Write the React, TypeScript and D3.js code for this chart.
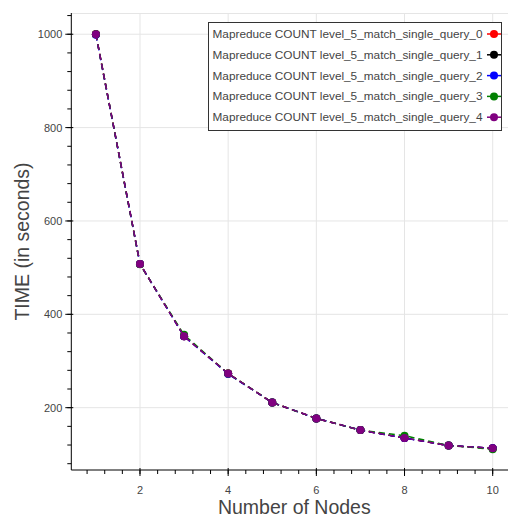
import React from "react";
import * as d3 from "d3";

const nodes = [1, 2, 3, 4, 5, 6, 7, 8, 9, 10];
const seriesNames = [
  "Mapreduce COUNT level_5_match_single_query_0",
  "Mapreduce COUNT level_5_match_single_query_1",
  "Mapreduce COUNT level_5_match_single_query_2",
  "Mapreduce COUNT level_5_match_single_query_3",
  "Mapreduce COUNT level_5_match_single_query_4",
];
const seriesColors = ["red", "black", "blue", "green", "purple"];
const query0 = [1000, 508, 353, 273, 211, 177, 152, 135, 119, 113];
const query1 = [1000, 508, 353, 273, 211, 177, 152, 135, 119, 113];
const query2 = [999, 508, 353, 272, 211, 177, 152, 135, 119, 113];
const query3 = [1000, 507, 356, 273, 211, 177, 152, 140, 119, 111];
const query4 = [1000, 508, 353, 273, 211, 177, 152, 135, 119, 113];
const seriesValues = [query0, query1, query2, query3, query4];
const xTicks = [2, 4, 6, 8, 10];
const yTicks = [200, 400, 600, 800, 1000];

export default function App() {
  const W = 508, H = 517;
  const left = 71.3, right = 517.3, top = 13, bottom = 470;
  const x = d3.scaleLinear().domain([0.442, 10.558]).range([left, right]);
  const y = d3.scaleLinear().domain([66.5, 1045.5]).range([bottom, top]);
  const line = d3
    .line<number>()
    .x((_, i) => x(nodes[i]))
    .y((d) => y(d));
  const xMinor = d3.range(0.8, 10.5, 0.4).filter((v) => x(v) >= left && x(v) <= W);
  const yMinor = d3.range(80, 1045, 40).filter((v) => y(v) >= top);
  const tickColor = "#444";
  const font = "Helvetica, Arial, 'Liberation Sans', sans-serif";

  const legX = 208.5, legY = 22.5, legW = 293, legH = 108;
  return (
    <svg width={W} height={H} style={{ position: "absolute", left: 0, top: 0 }} fontFamily={font}>
      <rect x={0} y={0} width={W} height={H} fill="white" />
      {/* grid */}
      {xTicks.map((t) => (
        <line key={"gx" + t} x1={x(t)} x2={x(t)} y1={top} y2={bottom} stroke="#e5e5e5" strokeWidth={1} />
      ))}
      {yTicks.map((t) => (
        <line key={"gy" + t} x1={left} x2={W} y1={y(t)} y2={y(t)} stroke="#e5e5e5" strokeWidth={1} />
      ))}
      {/* outline top */}
      <line x1={left} x2={W} y1={top + 0.5} y2={top + 0.5} stroke="#e5e5e5" />
      {/* series */}
      {seriesValues.map((vals, si) => (
        <g key={"s" + si}>
          <path d={line(vals) || ""} fill="none" stroke={seriesColors[si]} strokeWidth={1.5} strokeDasharray="6,4" />
          {vals.map((v, i) => (
            <circle key={i} cx={x(nodes[i])} cy={y(v)} r={4} fill={seriesColors[si]} />
          ))}
        </g>
      ))}
      {/* axes */}
      <line x1={left} x2={left} y1={top} y2={bottom} stroke="black" strokeWidth={1} />
      <line x1={left} x2={W} y1={bottom} y2={bottom} stroke="black" strokeWidth={1} />
      {xTicks.map((t) => (
        <g key={"xt" + t}>
          <line x1={x(t)} x2={x(t)} y1={bottom - 2} y2={bottom + 6} stroke="black" />
          <text x={x(t)} y={bottom + 24} textAnchor="middle" fontSize={11} fill={tickColor}>
            {t}
          </text>
        </g>
      ))}
      {xMinor.map((t) => (
        <line key={"xm" + t} x1={x(t)} x2={x(t)} y1={bottom} y2={bottom + 4} stroke="black" />
      ))}
      {yTicks.map((t) => (
        <g key={"yt" + t}>
          <line x1={left - 6} x2={left + 2} y1={y(t)} y2={y(t)} stroke="black" />
          <text x={left - 9} y={y(t) + 4} textAnchor="end" fontSize={11} fill={tickColor}>
            {t}
          </text>
        </g>
      ))}
      {yMinor.map((t) => (
        <line key={"ym" + t} x1={left - 4} x2={left} y1={y(t)} y2={y(t)} stroke="black" />
      ))}
      {/* axis labels */}
      <text x={(left + right) / 2} y={514} textAnchor="middle" fontSize={19.5} fill={tickColor}>
        Number of Nodes
      </text>
      <text
        transform={`translate(29, ${(top + bottom) / 2}) rotate(-90)`}
        textAnchor="middle"
        fontSize={19.5}
        fill={tickColor}
      >
        TIME (in seconds)
      </text>
      {/* legend */}
      <rect x={legX} y={legY} width={legW} height={legH} fill="white" stroke="#333" strokeWidth={1} />
      {seriesNames.map((name, i) => {
        const cy = 34 + i * 20.8;
        return (
          <g key={"l" + i}>
            <text x={212.5} y={cy + 4} fontSize={11.8} fill={tickColor}>
              {name}
            </text>
            <line x1={487} x2={501} y1={cy} y2={cy} stroke={seriesColors[i]} strokeWidth={1.5} />
            <circle cx={494} cy={cy} r={4} fill={seriesColors[i]} />
          </g>
        );
      })}
    </svg>
  );
}
